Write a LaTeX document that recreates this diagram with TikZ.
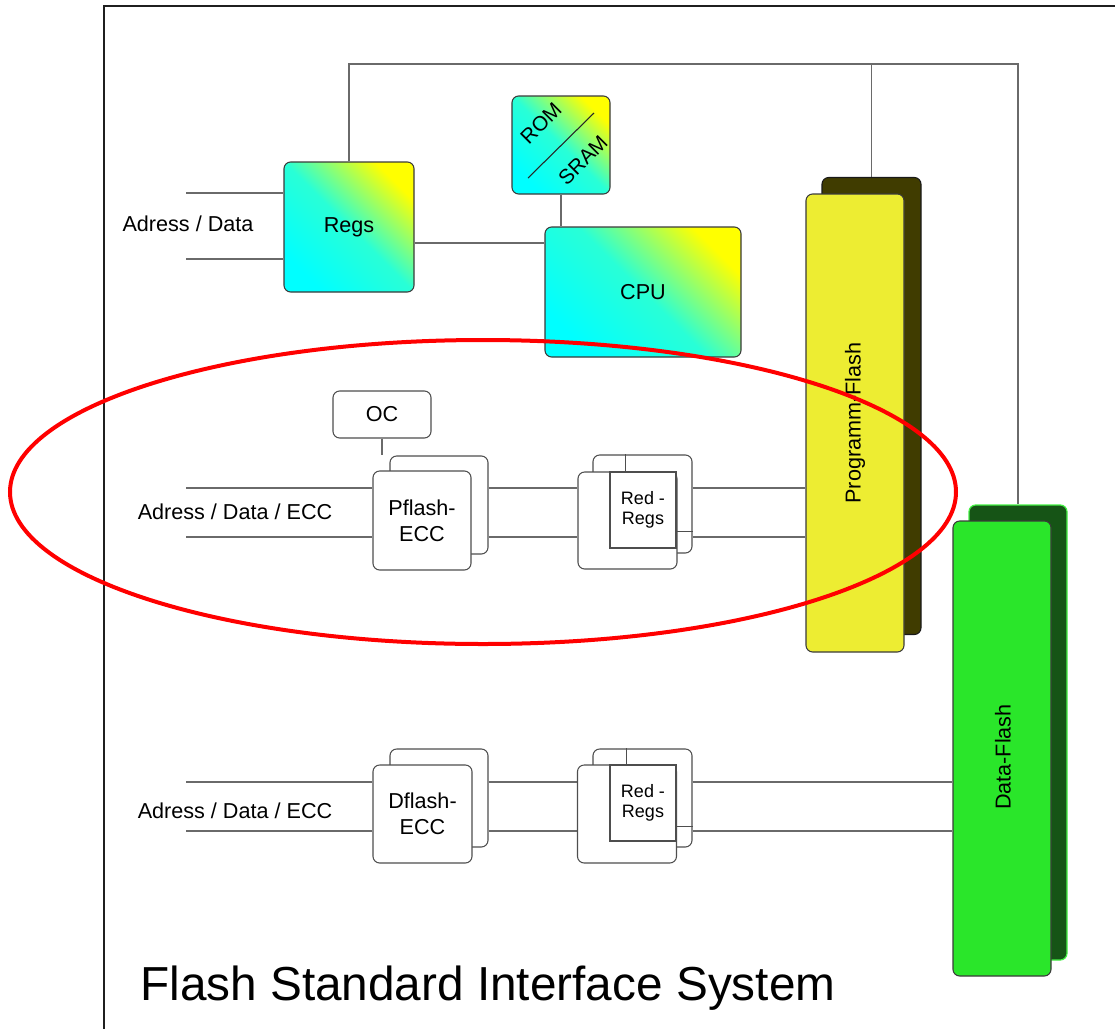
\documentclass[tikz,border=0pt]{standalone}
\usepackage{fontspec}
\setmainfont{Liberation Sans}
\usetikzlibrary{calc,backgrounds}
\definecolor{wirec}{HTML}{6A6A6A}
\definecolor{edgec}{HTML}{3A3A3A}
\definecolor{pfy}{HTML}{EDED32}
\definecolor{pfd}{HTML}{403C00}
\definecolor{dfg}{HTML}{2AE62A}
\definecolor{dfd}{HTML}{165416}
\definecolor{dfe}{HTML}{44F044}
\begin{document}
\begin{tikzpicture}[x=0.75pt,y=-0.75pt,
  lbl/.style={font=\fontsize{16.2}{19.5}\selectfont, inner sep=0pt},
  romlbl/.style={font=\fontsize{15.5}{18}\selectfont, inner sep=0pt},
  grad/.style={draw=edgec, line width=0.8pt, rounded corners=5pt,
    top color=yellow, bottom color=cyan, middle color=cyan!84!yellow,
    shading angle=-45, inner sep=0pt, font=\fontsize{16.2}{19.5}\selectfont},
  wbox/.style={draw=edgec!90, line width=0.8pt, rounded corners=5pt, fill=white,
    inner sep=0pt, font=\fontsize{16.2}{19.5}\selectfont, align=center},
  sqbox/.style={draw=edgec!90, line width=0.8pt, fill=white, inner sep=0pt,
    font=\fontsize{13.5}{15.5}\selectfont, align=center},
  pfback/.style={draw=black!90, line width=0.8pt, rounded corners=5pt, fill=pfd, inner sep=0pt},
  pffront/.style={draw=edgec, line width=0.8pt, rounded corners=5pt, fill=pfy, inner sep=0pt},
  dfback/.style={draw=dfe, line width=0.9pt, rounded corners=5pt, fill=dfd, inner sep=0pt},
  dffront/.style={draw=edgec, line width=0.8pt, rounded corners=5pt, fill=dfg, inner sep=0pt},
  wire/.style={draw=wirec, line width=1.15pt},
  tick/.style={draw=edgec!90, line width=0.8pt},
  frameline/.style={draw=black!88, line width=1.5pt}
]
\useasboundingbox (0,0) rectangle (1115,1029);

% outer frame
\draw[frameline] (104,1029) -- (104,6) -- (1115,6);

% ---- top part
\node[grad, minimum width=97.5pt, minimum height=97.5pt] (regs) at (349,227) {Regs};
\node[grad, minimum width=73.5pt, minimum height=73.5pt] (rom) at (561,145) {};
\draw[tick, draw=black!85] (528,178) -- (594,113);
\node[romlbl, rotate=45] (romt) at (541,123) {ROM};
\node[romlbl, rotate=45] (sramt) at (583,160) {SRAM};
\node[grad, minimum width=147pt, minimum height=97.5pt] (cpu) at (643,292) {CPU};
\node[lbl] (al) at (188,224) {Adress / Data};

% ---- flashes
\node[pfback, minimum width=74.25pt, minimum height=342.75pt] (pfb) at (871.5,406) {};
\node[pffront, minimum width=73.5pt, minimum height=343.5pt] (pff) at (855,423) {};
\node[lbl, rotate=90] (pft) at (855,423) {Programm-Flash};

\node[dfback, minimum width=73.5pt, minimum height=341.25pt] (dfb) at (1018,732.5) {};
\node[dffront, minimum width=73.5pt, minimum height=341.25pt] (dff) at (1002,748.5) {};
\node[lbl, rotate=90] (dft) at (1003,757) {Data-Flash};

% ---- Pflash row
\node[wbox, minimum width=73.5pt, minimum height=35.25pt] (oc) at (382,414.5) {OC};
\node[wbox, minimum width=73.5pt, minimum height=73.5pt] (peccb) at (439,505) {};
\node[wbox, minimum width=73.5pt, minimum height=74.25pt] (peccf) at (422,520.5) {Pflash-\\ECC};
\node[wbox, minimum width=74.25pt, minimum height=73.5pt] (predb) at (642.5,504) {};
\node[wbox, minimum width=74.25pt, minimum height=72.75pt] (predf) at (627.5,520.5) {};
\node[sqbox, minimum width=49.5pt, minimum height=57pt] (predi) at (643,510) {Red -\\Regs};
\path ([xshift=12pt]predi.north west) coordinate (pv);
\draw[tick] (pv) -- (pv |- predb.north);
\path ([yshift=12.75pt]predi.south east) coordinate (ph);
\draw[tick] (ph) -- (ph -| predb.east);
\node[lbl] (pl) at (235,512) {Adress / Data / ECC};

% ---- Dflash row
\node[wbox, minimum width=73.5pt, minimum height=73.5pt] (deccb) at (439,798) {};
\node[wbox, minimum width=74.25pt, minimum height=73.5pt] (deccf) at (422.5,814) {Dflash-\\ECC};
\node[wbox, minimum width=74.25pt, minimum height=73.5pt] (dredb) at (642.5,798) {};
\node[wbox, minimum width=74.25pt, minimum height=73.5pt] (dredf) at (627,814) {};
\node[sqbox, minimum width=49.5pt, minimum height=57pt] (dredi) at (643,803) {Red -\\Regs};
\path ([xshift=12.75pt]dredi.north west) coordinate (dv);
\draw[tick] (dv) -- (dv |- dredb.north);
\path ([yshift=11.25pt]dredi.south east) coordinate (dh);
\draw[tick] (dh) -- (dh -| dredb.east);
\node[lbl] (dl) at (235,811) {Adress / Data / ECC};

% ---- title
\node[anchor=base west, inner sep=0pt, font=\fontsize{35.8}{40}\selectfont] (title) at (140,1000) {Flash Standard Interface System};

% ---- connectors
\begin{scope}[on background layer]
\coordinate (bus) at (0,64);
\draw[wire] (regs.north) -- (regs.north |- bus) -- (dfb.north |- bus) -- (dfb.north);
\draw[wire] (pfb.north |- bus) -- (pfb.north);
\coordinate (a1) at (186,193);
\coordinate (a2) at (186,259);
\draw[wire] (a1) -- (a1 -| regs.west);
\draw[wire] (a2) -- (a2 -| regs.west);
\coordinate (rc) at (0,243);
\draw[wire] (rc -| regs.east) -- (rc -| cpu.west);
\draw[wire] (rom.south) -- (rom.south |- cpu.north);
\draw[wire] (oc.south) -- (oc.south |- peccb.north);
\coordinate (p1) at (186,488);
\coordinate (p2) at (186,537);
\foreach \c in {p1,p2} {
  \draw[wire] (\c) -- (\c -| peccf.west);
  \draw[wire] (\c -| peccb.east) -- (\c -| predf.west);
  \draw[wire] (\c -| predb.east) -- (\c -| pff.west);
}
\coordinate (d1) at (186,782);
\coordinate (d2) at (186,831);
\foreach \c in {d1,d2} {
  \draw[wire] (\c) -- (\c -| deccf.west);
  \draw[wire] (\c -| deccb.east) -- (\c -| dredf.west);
  \draw[wire] (\c -| dredb.east) -- (\c -| dff.west);
}
\end{scope}

% ---- red ellipse
\draw[red, line width=3pt] (483,492) ellipse [x radius=473, y radius=152];
\end{tikzpicture}
\end{document}
